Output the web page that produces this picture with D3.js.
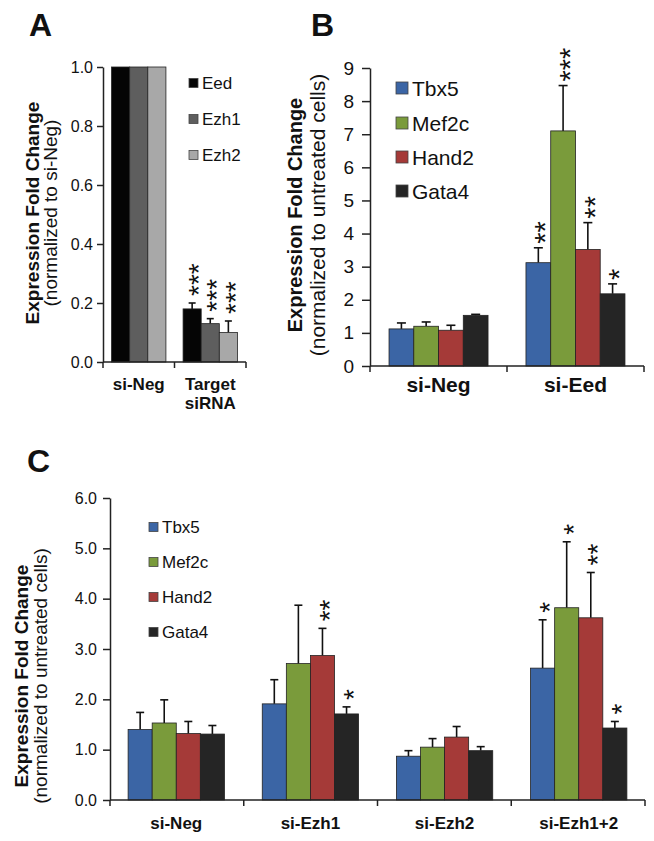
<!DOCTYPE html>
<html><head><meta charset="utf-8">
<script src="https://cdn.jsdelivr.net/npm/d3@7"></script>
<style>
body{margin:0;background:#fff}
svg{display:block}
text{font-family:"Liberation Sans",Arial,Helvetica,sans-serif;fill:#111}
</style>
</head><body>
<svg id="chart" width="654" height="841"></svg>
<script>
// ---------- Panel A data ----------
const aCategories = ["si-Neg", "Target\nsiRNA"];
const aSeries = ["Eed", "Ezh1", "Ezh2"];
const aEed = [1.0, 0.18];
const aEzh1 = [1.0, 0.13];
const aEzh2 = [1.0, 0.10];
const aEedErr = [0, 0.02];
const aEzh1Err = [0, 0.017];
const aEzh2Err = [0, 0.039];
const aStars = [["", "***"], ["", "***"], ["", "***"]];
const aTicks = [0, 0.2, 0.4, 0.6, 0.8, 1.0];

// ---------- Panel B data ----------
const bCategories = ["si-Neg", "si-Eed"];
const bSeries = ["Tbx5", "Mef2c", "Hand2", "Gata4"];
const bTbx5 = [1.12, 3.12];
const bMef2c = [1.20, 7.10];
const bHand2 = [1.08, 3.52];
const bGata4 = [1.53, 2.18];
const bTbx5Err = [0.18, 0.45];
const bMef2cErr = [0.13, 1.37];
const bHand2Err = [0.15, 0.81];
const bGata4Err = [0.03, 0.30];
const bStars = [["", "**"], ["", "***"], ["", "**"], ["", "*"]];
const bTicks = [0, 1, 2, 3, 4, 5, 6, 7, 8, 9];

// ---------- Panel C data ----------
const cCategories = ["si-Neg", "si-Ezh1", "si-Ezh2", "si-Ezh1+2"];
const cSeries = ["Tbx5", "Mef2c", "Hand2", "Gata4"];
const cTbx5 = [1.40, 1.91, 0.87, 2.62];
const cMef2c = [1.53, 2.71, 1.05, 3.82];
const cHand2 = [1.32, 2.87, 1.25, 3.62];
const cGata4 = [1.31, 1.71, 0.98, 1.43];
const cTbx5Err = [0.34, 0.48, 0.11, 0.96];
const cMef2cErr = [0.46, 1.16, 0.17, 1.31];
const cHand2Err = [0.24, 0.54, 0.21, 0.90];
const cGata4Err = [0.17, 0.14, 0.08, 0.13];
const cStars = [["", "", "", "*"], ["", "", "", "*"], ["", "**", "", "**"], ["", "*", "", "*"]];
const cTicks = [0, 1, 2, 3, 4, 5, 6];

const greyColors = ["#050505", "#5e5e5e", "#a8a8a8"];
const geneColors = ["#3b65a5", "#7a9b3b", "#a53a38", "#252525"];

const svg = d3.select("#chart");
const FONT = '"Liberation Sans",Arial,Helvetica,sans-serif';

function drawPanel(o) {
  const g = svg.append("g");
  const y = d3.scaleLinear().domain(o.yDomain).range([o.y0, o.y1]);
  const x = d3.scaleBand().domain(o.categories).range([o.x0, o.x1])
    .paddingInner(o.pi).paddingOuter(o.po);
  const xs = d3.scaleBand().domain(o.series).range([0, x.bandwidth()]);

  // bars, error bars, stars
  o.series.forEach((s, si) => {
    o.categories.forEach((c, ci) => {
      const v = o.values[si][ci], e = o.errors[si][ci];
      const bx = x(c) + xs(s), bw = xs.bandwidth(), cx = bx + bw / 2;
      if (e > 0) {
        g.append("line").attr("x1", cx).attr("x2", cx)
          .attr("y1", y(v)).attr("y2", y(v + e))
          .attr("stroke", "#111").attr("stroke-width", 1.6);
        g.append("line").attr("x1", cx - o.cap / 2).attr("x2", cx + o.cap / 2)
          .attr("y1", y(v + e)).attr("y2", y(v + e))
          .attr("stroke", "#111").attr("stroke-width", 1.6);
      }
      g.append("rect").attr("x", bx).attr("y", y(v))
        .attr("width", bw).attr("height", y(0) - y(v))
        .attr("fill", o.colors[si]).attr("stroke", "#222").attr("stroke-width", 0.8);
      const st = o.stars[si][ci];
      if (st) {
        const top = y(v + e) - o.starGap;
        g.append("text")
          .attr("transform", `translate(${cx + o.starFs * 0.58},${top}) rotate(-90)`)
          .attr("text-anchor", "start")
          .style("font-size", o.starFs + "px")
          .text(st);
      }
    });
  });

  // y axis
  const ya = g.append("g").attr("transform", `translate(${o.x0},0)`)
    .call(d3.axisLeft(y).tickValues(o.ticks).tickFormat(o.fmt)
      .tickSize(o.tickLen).tickSizeOuter(0).tickPadding(o.tickPad));
  ya.select(".domain").attr("stroke", "#222").attr("stroke-width", 1.5);
  ya.selectAll(".tick line").attr("stroke", "#222").attr("stroke-width", 1.5);
  ya.selectAll(".tick text").attr("fill", "#111")
    .style("font-family", FONT).style("font-size", o.tickFs + "px");

  // x axis
  g.append("line").attr("x1", o.x0).attr("x2", o.x1).attr("y1", o.y0).attr("y2", o.y0)
    .attr("stroke", "#222").attr("stroke-width", 1.5);
  const n = o.categories.length;
  for (let i = 0; i <= n; i++) {
    const tx = o.x0 + i * (o.x1 - o.x0) / n;
    g.append("line").attr("x1", tx).attr("x2", tx).attr("y1", o.y0).attr("y2", o.y0 + 6)
      .attr("stroke", "#222").attr("stroke-width", 1.5);
  }
  o.categories.forEach(c => {
    const lines = c.split("\n");
    lines.forEach((ln, li) => {
      g.append("text").attr("x", x(c) + x.bandwidth() / 2)
        .attr("y", o.labelY + li * o.labelLH)
        .attr("text-anchor", "middle")
        .style("font-size", o.labelFs + "px").style("font-weight", "bold")
        .text(ln);
    });
  });

  // y titles
  const yc = o.titleY;
  g.append("text").attr("transform", `translate(${o.title1X},${yc}) rotate(-90)`)
    .attr("text-anchor", "middle").style("font-weight", "bold")
    .style("font-size", o.title1Fs + "px").text("Expression Fold Change");
  g.append("text").attr("transform", `translate(${o.title2X},${yc}) rotate(-90)`)
    .attr("text-anchor", "middle")
    .style("font-size", o.title2Fs + "px").text(o.subtitle);

  // legend
  o.series.forEach((s, si) => {
    const ly = o.legY[si];
    g.append("rect").attr("x", o.legX).attr("y", ly - o.legSq / 2)
      .attr("width", o.legSq).attr("height", o.legSq)
      .attr("fill", o.colors[si]).attr("stroke", "#444").attr("stroke-width", 0.8);
    g.append("text").attr("x", o.legX + o.legSq + 4).attr("y", ly)
      .attr("dy", "0.36em").style("font-size", o.legFs + "px").text(s);
  });

  // panel letter
  g.append("text").attr("x", o.letterX).attr("y", o.letterY)
    .style("font-size", "32px").style("font-weight", "bold").text(o.letter);
}

drawPanel({
  letter: "A", letterX: 29, letterY: 36,
  categories: aCategories, series: aSeries,
  values: [aEed, aEzh1, aEzh2], errors: [aEedErr, aEzh1Err, aEzh2Err], stars: aStars,
  colors: greyColors, yDomain: [0, 1], ticks: aTicks, fmt: d3.format(".1f"),
  x0: 103, x1: 246, y0: 362, y1: 67, pi: 0.24, po: 0.12,
  cap: 7, starFs: 28, starGap: 7,
  tickLen: 6, tickPad: 4, tickFs: 16,
  labelY: 390, labelLH: 19, labelFs: 17,
  titleY: 213, title1X: 39, title1Fs: 19, title2X: 57, title2Fs: 19, subtitle: "(normalized to si-Neg)",
  legX: 189, legY: [83, 119, 155], legSq: 9, legFs: 17
});

drawPanel({
  letter: "B", letterX: 311, letterY: 36,
  categories: bCategories, series: bSeries,
  values: [bTbx5, bMef2c, bHand2, bGata4], errors: [bTbx5Err, bMef2cErr, bHand2Err, bGata4Err], stars: bStars,
  colors: geneColors, yDomain: [0, 9], ticks: bTicks, fmt: d3.format("d"),
  x0: 370, x1: 644, y0: 366, y1: 68, pi: 0.277, po: 0.139,
  cap: 9, starFs: 29, starGap: 4,
  tickLen: 8, tickPad: 8, tickFs: 19,
  labelY: 392, labelLH: 20, labelFs: 21,
  titleY: 215, title1X: 302, title1Fs: 20, title2X: 325, title2Fs: 21, subtitle: "(normalized to untreated cells)",
  legX: 396, legY: [88, 123, 157, 191], legSq: 12, legFs: 21
});

drawPanel({
  letter: "C", letterX: 27, letterY: 472,
  categories: cCategories, series: cSeries,
  values: [cTbx5, cMef2c, cHand2, cGata4], errors: [cTbx5Err, cMef2cErr, cHand2Err, cGata4Err], stars: cStars,
  colors: geneColors, yDomain: [0, 6], ticks: cTicks, fmt: d3.format(".1f"),
  x0: 110, x1: 645, y0: 800, y1: 498, pi: 0.282, po: 0.135,
  cap: 8, starFs: 28, starGap: 7,
  tickLen: 7, tickPad: 6, tickFs: 16,
  labelY: 829, labelLH: 18, labelFs: 17,
  titleY: 676, title1X: 28, title1Fs: 19, title2X: 47, title2Fs: 19, subtitle: "(normalized to untreated cells)",
  legX: 149, legY: [527, 562, 597, 632], legSq: 9, legFs: 17
});
</script>
</body></html>
